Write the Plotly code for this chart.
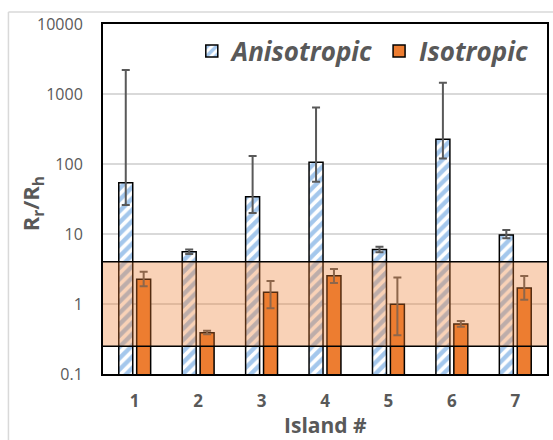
import plotly.graph_objects as go

islands = ["1", "2", "3", "4", "5", "6", "7"]
aniso = [54, 5.6, 34, 106, 6.0, 225, 9.7]
aniso_up = [2200, 6.0, 130, 640, 6.6, 1450, 11.4]
aniso_lo = [26, 5.2, 20, 56, 5.5, 120, 8.7]
iso = [2.25, 0.39, 1.47, 2.54, 0.99, 0.52, 1.69]
iso_up = [2.9, 0.416, 2.13, 3.16, 2.4, 0.57, 2.51]
iso_lo = [1.79, 0.369, 0.87, 2.0, 0.357, 0.474, 1.15]
band_lo, band_hi = 0.25, 4.0
ytickvals = [0.1, 1, 10, 100, 1000, 10000]
yticktext = ["0.1", "1", "10", "100", "1000", "10000"]

GRAY = "#595959"
FONT = "Open Sans"

def err(vals, up, lo):
    return dict(type="data", symmetric=False,
                array=[u - v for u, v in zip(up, vals)],
                arrayminus=[v - l for v, l in zip(vals, lo)],
                color=GRAY, thickness=2, width=4)

fig = go.Figure()
fig.add_trace(go.Bar(
    x=islands, y=aniso, name="Anisotropic",
    marker=dict(color="white", line=dict(color="black", width=1.5),
                pattern=dict(shape="/", fgcolor="#4A90D9", bgcolor="white",
                             size=8, solidity=0.55)),
    error_y=err(aniso, aniso_up, aniso_lo)))
fig.add_trace(go.Bar(
    x=islands, y=iso, name="Isotropic",
    marker=dict(color="#ED7D31", line=dict(color="black", width=1.5)),
    error_y=err(iso, iso_up, iso_lo)))

fig.add_shape(type="rect", xref="paper", yref="y", x0=0, x1=1,
              y0=band_lo, y1=band_hi, fillcolor="rgba(237,125,49,0.35)",
              line=dict(width=0), layer="above")
for v in (band_lo, band_hi):
    fig.add_shape(type="line", xref="paper", yref="y", x0=0, x1=1,
                  y0=v, y1=v, line=dict(color="black", width=1.5), layer="above")

# outer light frame
fig.add_shape(type="line", xref="paper", yref="paper", x0=-0.213, x1=1.02,
              y0=1.034, y1=1.034, line=dict(color="#D9D9D9", width=1.5))
fig.add_shape(type="line", xref="paper", yref="paper", x0=-0.213, x1=-0.213,
              y0=1.034, y1=-0.2, line=dict(color="#D9D9D9", width=1.5))

fig.add_annotation(text="<b>R<sub>r</sub>/R<sub>h</sub></b>", xref="paper", yref="paper",
                   x=(32 - 103) / 446, y=(374 - 204) / 350, textangle=-90,
                   showarrow=False, font=dict(family=FONT, size=22, color=GRAY),
                   xanchor="center", yanchor="middle")
fig.add_annotation(text="<b>Island #</b>", xref="paper", yref="paper",
                   x=(326 - 103) / 446, y=(374 - 425) / 350,
                   showarrow=False, font=dict(family=FONT, size=21, color=GRAY),
                   xanchor="center", yanchor="middle")

fig.update_layout(
    width=553, height=440,
    margin=dict(l=103, r=4, t=24, b=66),
    paper_bgcolor="white", plot_bgcolor="white",
    barmode="group", bargap=0.435, bargroupgap=0.22,
    font=dict(family=FONT, color=GRAY),
    legend=dict(orientation="h", x=0.2, y=0.99, xanchor="left", yanchor="top",
                bgcolor="rgba(0,0,0,0)", itemwidth=30,
                font=dict(family=FONT, size=26, color=GRAY, weight="bold", style="italic")),
    showlegend=True,
)
fig.update_xaxes(showline=True, linecolor="black", linewidth=2, mirror=True,
                 ticks="", ticklabelstandoff=11,
                 tickfont=dict(family=FONT, size=17, color=GRAY, weight="bold"))
fig.update_yaxes(type="log", range=[-1, 4], tickvals=ytickvals, ticktext=yticktext,
                 showline=True, linecolor="black", linewidth=2, mirror=True,
                 showgrid=True, gridcolor="#D9D9D9", gridwidth=1.5,
                 ticks="", ticklabelstandoff=15,
                 tickfont=dict(family=FONT, size=16, color=GRAY))

fig.write_html("out.html", config={"displayModeBar": False},
               post_script="document.body.style.margin='0px';")
